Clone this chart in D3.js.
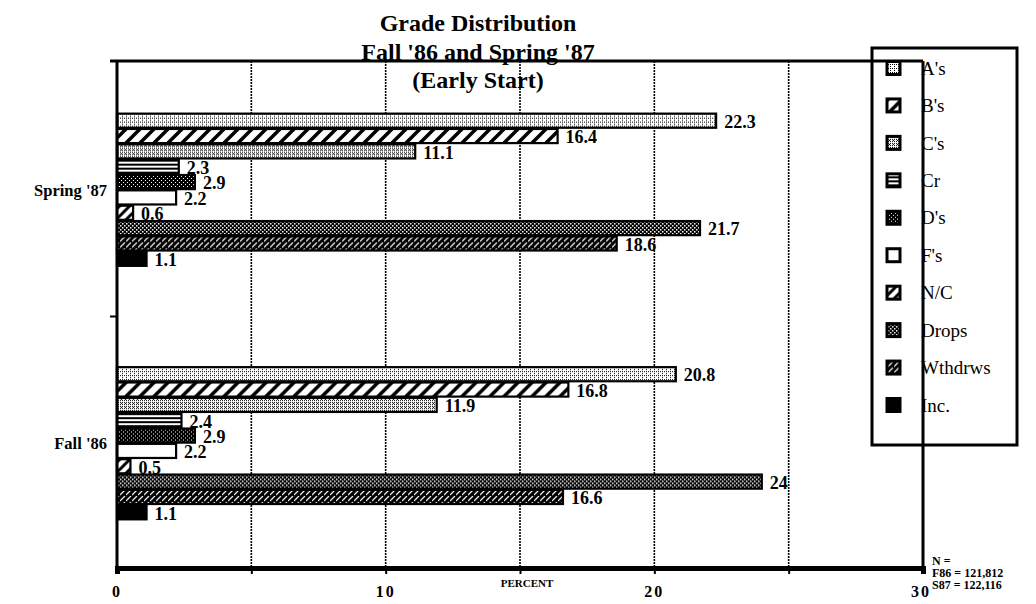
<!DOCTYPE html>
<html>
<head>
<meta charset="utf-8">
<script src="https://cdn.jsdelivr.net/npm/d3@7"></script>
<style>
  body { margin: 0; background: #fff; }
  svg { display: block; }
  text { font-family: "Liberation Serif", "DejaVu Serif", serif; fill: #000; }
</style>
</head>
<body>
<div id="chart"></div>
<script>
const groups = ["Spring '87", "Fall '86"];
const series = ["A's", "B's", "C's", "Cr", "D's", "F's", "N/C", "Drops", "Wthdrws", "Inc."];
const springValues = [22.3, 16.4, 11.1, 2.3, 2.9, 2.2, 0.6, 21.7, 18.6, 1.1];
const fallValues = [20.8, 16.8, 11.9, 2.4, 2.9, 2.2, 0.5, 24, 16.6, 1.1];
const xTickLabels = [0, 10, 20, 30];
const gridValues = [5, 10, 15, 20, 25];
const titleLines = ["Grade Distribution", "Fall '86 and Spring '87", "(Early Start)"];
const noteLines = ["N =", "F86 = 121,812", "S87 = 122,116"];

const W = 1036, H = 604;
const margin = {top: 61, right: 113, bottom: 36, left: 117};

const svg = d3.select('#chart').append('svg')
  .attr('width', W)
  .attr('height', H);

// fill patterns, one per series
const defs = svg.append('defs');
const pat = (id, w, h, bg) => {
  const p = defs.append('pattern')
    .attr('id', id)
    .attr('patternUnits', 'userSpaceOnUse')
    .attr('width', w)
    .attr('height', h);
  p.append('rect').attr('width', w).attr('height', h).attr('fill', bg);
  return p;
}
const dots = (p, pts, c, s) => pts.forEach(([a, b]) =>
  p.append('rect').attr('x', a).attr('y', b).attr('width', s).attr('height', s).attr('fill', c));

// light dots
dots(pat('p0', 4, 4, '#fff'), [[0, 0], [2, 2], [2, 0]], '#000', 1);
// wide diagonal hatch
let p = pat('p1', 14, 14, '#fff');
p.append('path').attr('d', 'M-2,16 L16,-2 M-2,2 L2,-2 M12,16 L16,12').attr('stroke', '#000').attr('stroke-width', 3.5);
// medium dots
dots(pat('p2', 4, 4, '#fff'), [[0, 0], [2, 2], [2, 0], [0, 2], [1, 1]], '#000', 1);
// horizontal lines
p = pat('p3', 6, 4, '#fff');
p.append('rect').attr('width', 6).attr('height', 2).attr('fill', '#000');
// dark dots
dots(pat('p4', 4, 4, '#000'), [[1, 1], [3, 3]], '#fff', 1);
// white
pat('p5', 4, 4, '#fff');
// diagonal, like B's but tighter
p = pat('p6', 10, 10, '#fff');
p.append('path').attr('d', 'M-2,12 L12,-2 M-2,2 L2,-2 M8,12 L12,8').attr('stroke', '#000').attr('stroke-width', 3);
// checker
dots(pat('p7', 4, 4, '#000'), [[0, 0], [2, 2]], '#fff', 1.5);
// dense dark diagonal
p = pat('p8', 6, 6, '#000');
p.append('path').attr('d', 'M0,5 L5,0').attr('stroke', '#fff').attr('stroke-width', 1.2);
// solid black
pat('p9', 4, 4, '#000');

const fillOf = (s) => `url(#p${series.indexOf(s)})`;

const x = d3.scaleLinear()
  .domain([0, 30])
  .range([margin.left, W - margin.right]);

const y0 = d3.scaleBand()
  .domain(groups)
  .range([margin.top + 2, H - margin.bottom + 2]);

const y1 = d3.scaleBand()
  .domain(series)
  .range([0, y0.bandwidth()])
  .paddingInner(0.08)
  .paddingOuter(3.3);

const rows = [];
groups.forEach((g, gi) => {
  const vals = gi === 0 ? springValues : fallValues;
  series.forEach((s, si) => rows.push({group: g, series: s, value: vals[si]}));
});

// dotted gridlines
svg.append('g')
  .selectAll('line')
  .data(gridValues)
  .join('line')
  .attr('x1', d => x(d)).attr('x2', d => x(d))
  .attr('y1', margin.top).attr('y2', H - margin.bottom)
  .attr('stroke', '#000')
  .attr('stroke-width', 1.6)
  .attr('stroke-dasharray', '2,1');

// bars
const bars = svg.append('g')
  .selectAll('g')
  .data(rows)
  .join('g')
  .attr('transform', d => `translate(0,${y0(d.group) + y1(d.series)})`);

bars.append('rect')
  .attr('x', x(0))
  .attr('y', 0)
  .attr('width', d => x(d.value) - x(0))
  .attr('height', y1.bandwidth())
  .attr('fill', d => fillOf(d.series))
  .attr('stroke', '#000')
  .attr('stroke-width', 2.2);

bars.append('text')
  .attr('x', d => x(d.value) + 8)
  .attr('y', y1.bandwidth() / 2 + 1)
  .attr('dy', '0.35em')
  .style('font-size', '18px')
  .style('font-weight', 'bold')
  .text(d => String(d.value));

// legend
const legend = svg.append('g');
legend.append('rect')
  .attr('x', 872).attr('y', 48)
  .attr('width', 145).attr('height', 397)
  .attr('fill', '#fff')
  .attr('stroke', '#000')
  .attr('stroke-width', 3);

const ly = d3.scalePoint().domain(series).range([68, 405]);
const items = legend.selectAll('g.item')
  .data(series)
  .join('g')
  .attr('class', 'item')
  .attr('transform', d => `translate(0,${ly(d)})`);

items.append('rect')
  .attr('x', 887).attr('y', -6.5)
  .attr('width', 13).attr('height', 13)
  .attr('fill', d => fillOf(d))
  .attr('stroke', '#000')
  .attr('stroke-width', 3);

items.append('text')
  .attr('x', 921)
  .attr('dy', '0.35em')
  .style('font-size', '19px')
  .text(d => d);

// frame: top and right lines run over the legend
svg.append('line')
  .attr('x1', 110).attr('x2', x(30))
  .attr('y1', margin.top).attr('y2', margin.top)
  .attr('stroke', '#000').attr('stroke-width', 3);
svg.append('line')
  .attr('x1', x(30)).attr('x2', x(30))
  .attr('y1', margin.top).attr('y2', H - margin.bottom)
  .attr('stroke', '#000').attr('stroke-width', 3);

// left axis
svg.append('line')
  .attr('x1', x(0)).attr('x2', x(0))
  .attr('y1', margin.top).attr('y2', H - margin.bottom)
  .attr('stroke', '#000').attr('stroke-width', 3);
svg.append('line')
  .attr('x1', x(0) - 7).attr('x2', x(0))
  .attr('y1', y0("Fall '86")).attr('y2', y0("Fall '86"))
  .attr('stroke', '#000').attr('stroke-width', 2);

svg.append('g')
  .selectAll('text')
  .data(groups)
  .join('text')
  .attr('x', 107)
  .attr('y', d => y0(d) + y0.bandwidth() / 2 + 6)
  .attr('text-anchor', 'end')
  .style('font-size', '16.5px')
  .style('font-weight', 'bold')
  .text(d => d);

// bottom axis
const xAxis = d3.axisBottom(x)
  .tickValues([0, 5, 10, 15, 20, 25, 30])
  .tickSize(6)
  .tickFormat('');
const gx = svg.append('g')
  .attr('transform', `translate(0,${H - margin.bottom})`)
  .call(xAxis);
gx.select('.domain').attr('stroke-width', 5);
gx.selectAll('.tick line').attr('stroke-width', 2);

svg.append('g')
  .selectAll('text')
  .data(xTickLabels)
  .join('text')
  .attr('x', d => x(d) + (d === 30 ? -2 : 0))
  .attr('y', 597)
  .attr('text-anchor', 'middle')
  .style('font-size', '16px')
  .style('font-weight', 'bold')
  .style('letter-spacing', '2px')
  .text(d => d);

svg.append('text')
  .attr('x', 527).attr('y', 587)
  .attr('text-anchor', 'middle')
  .style('font-size', '11px')
  .style('font-weight', 'bold')
  .text('PERCENT');

// note
svg.append('g')
  .selectAll('text')
  .data(noteLines)
  .join('text')
  .attr('x', 932)
  .attr('y', (d, i) => 565 + i * 12)
  .style('font-size', '12px')
  .style('font-weight', 'bold')
  .text(d => d);

// title
svg.append('g')
  .selectAll('text')
  .data(titleLines)
  .join('text')
  .attr('x', 478)
  .attr('y', (d, i) => 31 + i * 28.5)
  .attr('text-anchor', 'middle')
  .style('font-size', '24px')
  .style('font-weight', 'bold')
  .text(d => d);
</script>
</body>
</html>
